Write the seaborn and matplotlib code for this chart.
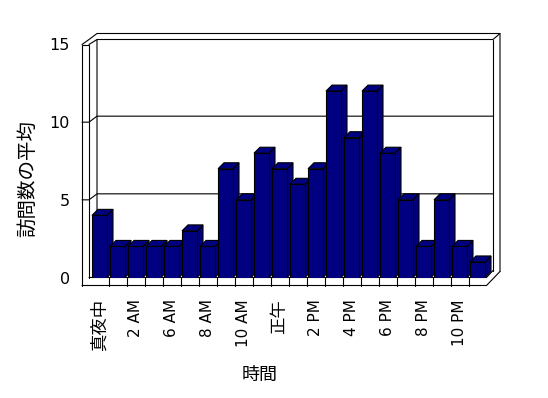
import matplotlib
matplotlib.use("Agg")
import matplotlib.pyplot as plt
import matplotlib.transforms as mtransforms
from matplotlib.patches import Polygon
from matplotlib.lines import Line2D
import pandas as pd
import seaborn as sns

# hourly average visits (one hour slot is missing in the source data)
hours = ["真夜中", "1 AM", "2 AM", "5 AM", "6 AM", "7 AM", "8 AM", "9 AM", "10 AM", "11 AM",
         "正午", "1 PM", "2 PM", "3 PM", "4 PM", "5 PM", "6 PM", "7 PM", "8 PM", "9 PM",
         "10 PM", "11 PM"]
visits = [4, 2, 2, 2, 2, 3, 2, 7, 5, 8, 7, 6, 7, 12, 9, 12, 8, 5, 2, 5, 2, 1]
y_ticks = [0, 5, 10, 15]

NAVY = "#000080"
DEPTH = 6  # bar depth in pixels

sns.set_style("white")
plt.rcParams["font.family"] = ["DejaVu Sans", "Noto Sans CJK JP"]
plt.rcParams.update({"text.color": "black", "axes.labelcolor": "black",
                     "xtick.color": "black", "ytick.color": "black"})

df = pd.DataFrame({"hour": hours, "visits": visits})

fig = plt.figure(figsize=(5.48, 3.98), dpi=100)
ax = fig.add_axes([90.5 / 548, 120.5 / 398, 396 / 548, 233 / 398])
sns.barplot(data=df, x="hour", y="visits", order=hours, color=NAVY, saturation=1,
            width=15 / 18, edgecolor="black", linewidth=0.8, ax=ax)
ax.set_xlim(-0.5, len(hours) - 0.5)
ax.set_ylim(0, 15)
ax.set_autoscale_on(False)
for s in ax.spines.values():
    s.set_visible(False)
ax.patch.set_visible(False)

ident = mtransforms.IdentityTransform()


def to_px(x, y):
    return ax.transData.transform((x, y))


def seg(points, z=1):
    xs, ys = zip(*points)
    ax.add_artist(Line2D(xs, ys, transform=ident, color="black", lw=0.8,
                         clip_on=False, zorder=z, solid_joinstyle="miter"))


# 3D side and top faces of the bars
for i, p in enumerate(ax.patches):
    x0, w, h = p.get_x(), p.get_width(), p.get_height()
    X0, Y0 = to_px(x0, 0)
    X1, Yh = to_px(x0 + w, h)
    d = DEPTH
    top = [(X0, Yh), (X1, Yh), (X1 + d, Yh + d), (X0 + d, Yh + d)]
    side = [(X1, Y0), (X1, Yh), (X1 + d, Yh + d), (X1 + d, Y0 + d)]
    for poly in (side, top):
        ax.add_artist(Polygon(poly, closed=True, transform=ident, facecolor=NAVY,
                              edgecolor="black", lw=0.8, clip_on=False, zorder=2 + i * 0.01))
    p.set_zorder(2 + i * 0.01 + 0.005)

# walls and floor of the 3D frame
xl, y0 = to_px(-0.5, 0)
xr, yt = to_px(len(hours) - 0.5, 15)
ol, il, bl = xl - 8.5, xl - 1.5, xl + 6.5
ri, ro = xr + 6.5, xr + 13.5
fb = y0 - 8

seg([(ol, fb), (ol, yt), (il, yt), (il, y0)])
seg([(ol, fb), (xr, fb), (ro, fb + 14)])
seg([(il, y0), (xr, y0), (ri, y0 + 7)])
seg([(il, yt), (bl, yt + 5), (bl, y0 + 6)])
seg([(ol, yt), (ol + 7, yt + 5), (bl, yt + 11), (ro, yt + 11), (ro, fb + 14)])
seg([(bl, yt + 5), (ri, yt + 5), (ro, yt + 11)])
seg([(ri, yt + 5), (ri, y0 + 7)])
for v in y_ticks[1:-1]:
    _, yf = to_px(0, v)
    seg([(ol, yf), (il, yf), (bl, yf + 6), (ri, yf + 6)], z=1)
for i in range(len(hours) - 1):
    xt, _ = to_px(i + 0.5, 0)
    seg([(xt, y0), (xt, fb)])

ax.set_yticks(y_ticks)
ax.set_yticklabels([str(v) for v in y_ticks], fontsize=11.5)
ax.set_xticks(range(0, len(hours), 2))
ax.set_xticklabels(hours[::2], rotation=90, fontsize=11)
for t in ax.get_xticklabels():
    if not t.get_text()[0].isdigit():
        t.set_fontsize(12.5)
ax.tick_params(axis="y", length=0, pad=15)
ax.tick_params(axis="x", length=0, pad=15.5)

ax.set_xlabel("時間", fontsize=13)
ax.set_ylabel("訪問数の平均", fontsize=14)
ax.xaxis.set_label_coords(0.428, -0.418)
ax.yaxis.set_label_coords(-0.159, 0.425)
ax.xaxis.label.set_va("center")
ax.yaxis.label.set_va("center")

fig.savefig("out.png", dpi=100)
